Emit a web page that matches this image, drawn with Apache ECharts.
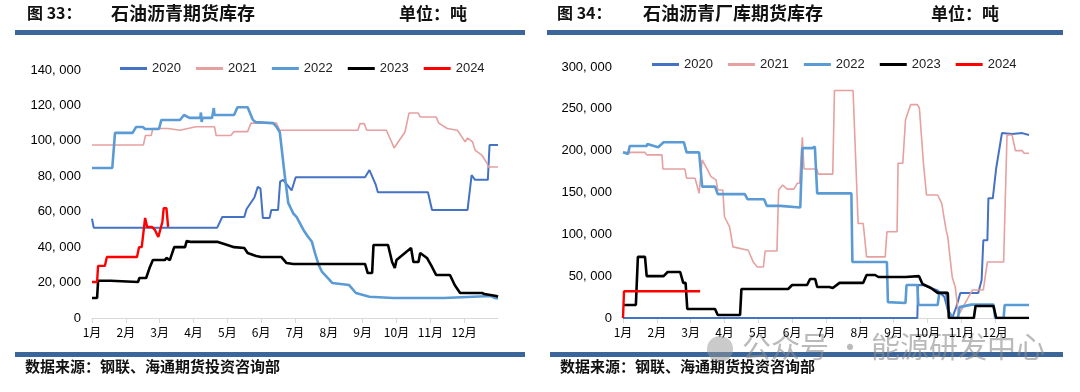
<!DOCTYPE html>
<html><head><meta charset="utf-8">
<script src="https://cdn.jsdelivr.net/npm/echarts@6/dist/echarts.min.js"></script>
<style>html,body{margin:0;padding:0;background:#fff}#c{width:1080px;height:392px}</style>
</head><body><div id="c"></div>
<script>
// ---- data ----
const years = ['2020','2021','2022','2023','2024'];
const monthLabels = ['1月','2月','3月','4月','5月','6月','7月','8月','9月','10月','11月','12月'];
const colors = ['#4472C4','#E6A0A0','#5B9BD5','#000000','#FF0000'];

// Figure 33: x = month position (0 = 1月 start), y = tonnes
const L2020 = [[0,56000],[0.05,51000],[3.7,51000],[3.85,57000],[4.5,57000],[4.57,61500],[4.8,68000],[4.9,74000],[4.98,73000],[5.05,56500],[5.25,56500],[5.3,61000],[5.5,61000],[5.56,77000],[5.65,78000],[5.9,72000],[6.02,79500],[8.07,79500],[8.2,83500],[8.25,83000],[8.38,75600],[8.45,71000],[9.93,71000],[10.05,61000],[11.1,61000],[11.22,80700],[11.32,78000],[11.7,78000],[11.75,97700],[12,97700]];
const L2021 = [[0,97700],[1.52,97700],[1.58,103000],[1.75,103000],[1.8,107000],[2.25,107000],[2.6,106000],[3.07,108000],[3.62,108000],[3.67,103000],[4.1,103000],[4.2,105200],[4.6,105200],[4.7,110000],[5.45,110000],[5.55,106000],[7.86,106000],[7.92,109700],[8.05,109700],[8.12,106000],[8.7,106000],[8.93,96000],[9.25,105000],[9.37,115700],[9.64,115700],[9.7,113500],[10.17,113500],[10.25,110000],[10.5,107000],[10.8,106000],[11.03,99400],[11.1,101600],[11.25,99400],[11.32,94800],[11.52,92000],[11.67,87500],[11.72,85200],[12,85200]];
const L2022 = [[0,84700],[0.6,84700],[0.68,104500],[1.2,104500],[1.3,107800],[1.5,107800],[1.57,106700],[1.98,106700],[2.05,111800],[2.6,111800],[2.72,114600],[2.88,113000],[3.2,113000],[3.22,116000],[3.24,110700],[3.27,113000],[3.55,113000],[3.6,118500],[3.62,114600],[4.2,114600],[4.3,119000],[4.6,119000],[4.75,112000],[4.83,110600],[5.35,110000],[5.45,108000],[5.55,105000],[5.6,105000],[5.7,80000],[5.8,65000],[5.95,59000],[6.05,57000],[6.25,49700],[6.38,46000],[6.5,43000],[6.6,36000],[6.7,30000],[6.8,26000],[7.0,22000],[7.1,19800],[7.6,18600],[7.8,14100],[8.2,12000],[8.9,11300],[10.4,11300],[10.45,12400],[11.8,12400],[11.9,11300],[12,11000]];
const L2023 = [[0,11300],[0.15,11300],[0.18,21000],[0.55,21000],[0.6,20300],[1.36,20300],[1.4,22600],[1.6,22600],[1.7,28200],[1.8,32700],[2.15,32700],[2.2,33900],[2.3,32700],[2.43,40000],[2.75,40000],[2.8,43500],[2.9,43000],[3.7,43000],[4.0,41200],[4.2,40000],[4.5,39500],[4.6,36700],[4.85,35000],[5.0,34400],[5.6,34400],[5.75,31000],[5.95,30500],[8.07,30500],[8.15,25400],[8.28,25400],[8.32,41200],[8.75,41200],[8.87,31600],[8.95,28200],[9.0,32700],[9.25,36700],[9.43,39500],[9.5,31600],[9.65,31600],[9.7,36700],[9.9,33900],[10.05,28800],[10.17,24300],[10.58,24300],[10.72,18600],[10.88,14100],[11.53,14100],[11.6,13500],[11.95,12400],[12,12000]];
const L2024 = [[0,20300],[0.15,20300],[0.18,29400],[0.38,29400],[0.44,34400],[1.33,34400],[1.39,40000],[1.47,40000],[1.57,56500],[1.63,51400],[1.77,51400],[1.86,49700],[1.96,45700],[2.08,54200],[2.12,62000],[2.2,62000],[2.25,51400]];

// Figure 34
const R2020 = [[0,0],[8.7,0],[8.72,39400],[8.9,39000],[9.1,36000],[9.3,33000],[9.5,25000],[9.6,9500],[9.73,0],[9.85,13000],[9.97,30000],[10.5,30000],[10.6,45400],[10.65,93000],[10.77,93000],[10.8,143000],[10.93,143000],[11.03,179000],[11.2,221000],[11.5,220000],[11.8,221000],[12,218700]];
const R2021 = [[0,198000],[0.65,198000],[0.7,195000],[1.15,195000],[1.18,178000],[1.83,178000],[1.88,167000],[2.13,167000],[2.25,149000],[2.34,189000],[2.5,177000],[2.6,169000],[2.75,165000],[2.8,153000],[2.95,153000],[3.0,121000],[3.15,109000],[3.25,85000],[3.7,81000],[3.85,67000],[3.97,61000],[4.15,61000],[4.2,80000],[4.55,80000],[4.6,153000],[4.72,159000],[4.85,154000],[5.05,154000],[5.15,161000],[5.22,161000],[5.3,216000],[5.35,178000],[5.73,178000],[5.77,172000],[6.2,172000],[6.25,272000],[6.8,272000],[6.95,113000],[7.1,113000],[7.2,73000],[7.75,73000],[7.8,103000],[8.1,103000],[8.13,185000],[8.27,185000],[8.35,237000],[8.5,255000],[8.7,255000],[8.76,251000],[8.88,185000],[8.97,147000],[9.3,147000],[9.42,137000],[9.55,105000],[9.6,97000],[9.73,49000],[9.82,37000],[9.92,3600],[10.33,33500],[10.65,33500],[10.77,67000],[11.25,67000],[11.35,218700],[11.5,218700],[11.6,200000],[11.8,200000],[11.85,197000],[12,197000]];
const R2022 = [[0,198000],[0.15,196000],[0.2,205500],[0.7,205500],[0.72,208000],[1.04,204000],[1.2,210000],[1.8,210000],[1.88,198000],[2.25,198000],[2.34,157000],[2.72,157000],[2.8,148000],[3.6,148000],[3.68,142000],[4.17,142000],[4.25,134000],[4.65,134000],[4.7,132000],[5.24,132000],[5.3,203000],[5.6,203000],[5.67,205000],[5.74,149000],[6.75,149000],[6.78,67000],[7.8,67000],[7.83,19000],[8.35,18000],[8.38,39400],[8.7,39400],[8.73,15500],[9.3,15500],[9.35,30000],[9.55,30000],[9.62,8000],[9.75,0],[9.9,0],[9.95,13000],[10.3,16000],[10.95,16000],[11.0,0],[11.25,0],[11.28,15500],[12,15500]];
const R2023 = [[0,15500],[0.38,15500],[0.44,73000],[0.65,73000],[0.7,50000],[1.2,50000],[1.32,55000],[1.69,55000],[1.78,42000],[1.85,42000],[1.9,10800],[2.72,10800],[2.8,3600],[3.46,3600],[3.5,34700],[4.88,34700],[5.0,39400],[5.44,39400],[5.53,46600],[5.68,46600],[5.74,37000],[6.1,37000],[6.2,35800],[6.4,42000],[7.1,42000],[7.2,51400],[7.45,51400],[7.55,49000],[8.35,49000],[8.4,50000],[8.75,50000],[8.85,40600],[9.1,35800],[9.3,30000],[9.6,30000],[9.63,0],[10.37,0],[10.42,14300],[10.95,14300],[11.03,0],[12,0]];
const R2024 = [[0,0],[0.03,32000],[2.28,32000]];

const leftData = [L2020,L2021,L2022,L2023,L2024];
const rightData = [R2020,R2021,R2022,R2023,R2024];
const widths = [2,1.6,2.6,2.6,2.4];

const chart = echarts.init(document.getElementById('c'), null, {renderer:'canvas'});
const FONT = '"Liberation Sans", Arial, sans-serif';
const CJK = '"Noto Sans CJK SC", sans-serif';
const fmt = v => v === 0 ? '0' : v.toLocaleString('en-US').replace(',', ', ');

function xAx(gi){
  return {type:'value', gridIndex:gi, min:0, max:12, interval:1,
    axisLine:{show:true, lineStyle:{color:'#D9D9D9', width:1}},
    axisTick:{show:true, inside:false, length:5, lineStyle:{color:'#D9D9D9'}},
    splitLine:{show:false},
    axisLabel:{color:'#000', fontSize:12, fontFamily:CJK, margin:8, showMaxLabel:false,
      formatter: v => monthLabels[v] || ''}};
}
function yAx(gi,max,interval){
  return {type:'value', gridIndex:gi, min:0, max:max, interval:interval,
    axisLine:{show:false}, axisTick:{show:false}, splitLine:{show:false},
    axisLabel:{color:'#000', fontSize:13, fontFamily:FONT, margin:11, formatter: fmt}};
}
const series = [];
years.forEach((y,i)=>{
  series.push({name:y, type:'line', xAxisIndex:0, yAxisIndex:0, data:leftData[i], showSymbol:false, symbol:'none',
    lineStyle:{color:colors[i], width:widths[i]}, itemStyle:{color:colors[i]}, animation:false});
});
years.forEach((y,i)=>{
  series.push({name:y, type:'line', xAxisIndex:1, yAxisIndex:1, data:rightData[i], showSymbol:false, symbol:'none',
    lineStyle:{color:colors[i], width:widths[i]}, itemStyle:{color:colors[i]}, animation:false});
});
const legendCommon = {data:years, icon:'rect', itemWidth:27, itemHeight:3, itemGap:15,
  textStyle:{color:'#222', fontSize:13, fontFamily:FONT}, selectedMode:false};
const titleStyle = {fill:'#111', fontSize:17, fontWeight:'bold', fontFamily:CJK};
function txt(x,y,t,style){return {type:'text', left:x, top:y, style:Object.assign({text:t}, style)};}
const barColor = '#3C6699';
chart.setOption({
  animation:false,
  grid:[{left:92, top:70, width:406, height:248},{left:623, top:67, width:406, height:251}],
  xAxis:[xAx(0), xAx(1)],
  yAxis:[yAx(0,140000,20000), yAx(1,300000,50000)],
  legend:[Object.assign({left:115, top:57}, legendCommon), Object.assign({left:647, top:53}, legendCommon)],
  series: series,
  graphic:[
    txt(27,5,'图 33：',Object.assign({},titleStyle,{fontSize:16})), txt(111,4,'石油沥青期货库存',Object.assign({},titleStyle,{fontSize:18})), txt(399,5,'单位：吨',titleStyle),
    txt(557,5,'图 34：',Object.assign({},titleStyle,{fontSize:16})), txt(643,4,'石油沥青厂库期货库存',Object.assign({},titleStyle,{fontSize:18})), txt(931,5,'单位：吨',titleStyle),
    {type:'rect', shape:{x:15,y:30,width:510,height:5}, style:{fill:barColor}},
    {type:'rect', shape:{x:547,y:30,width:516,height:5}, style:{fill:barColor}},
    {type:'rect', shape:{x:15,y:352,width:510,height:5}, style:{fill:barColor}},
    {type:'rect', shape:{x:550,y:352,width:513,height:5}, style:{fill:barColor}},
    txt(25,359,'数据来源：钢联、海通期货投资咨询部',{fill:'#111', fontSize:15, fontWeight:'bold', fontFamily:CJK}),
    txt(560,359,'数据来源：钢联、海通期货投资咨询部',{fill:'#111', fontSize:15, fontWeight:'bold', fontFamily:CJK}),
    {type:'circle', shape:{cx:720,cy:349,r:13}, style:{fill:'rgba(150,150,150,0.5)'}, z:100},
    txt(742,332,'公众号 · 能源研发中心',{fill:'rgba(140,140,140,0.6)', fontSize:29, fontFamily:CJK})
  ]
});
</script></body></html>
